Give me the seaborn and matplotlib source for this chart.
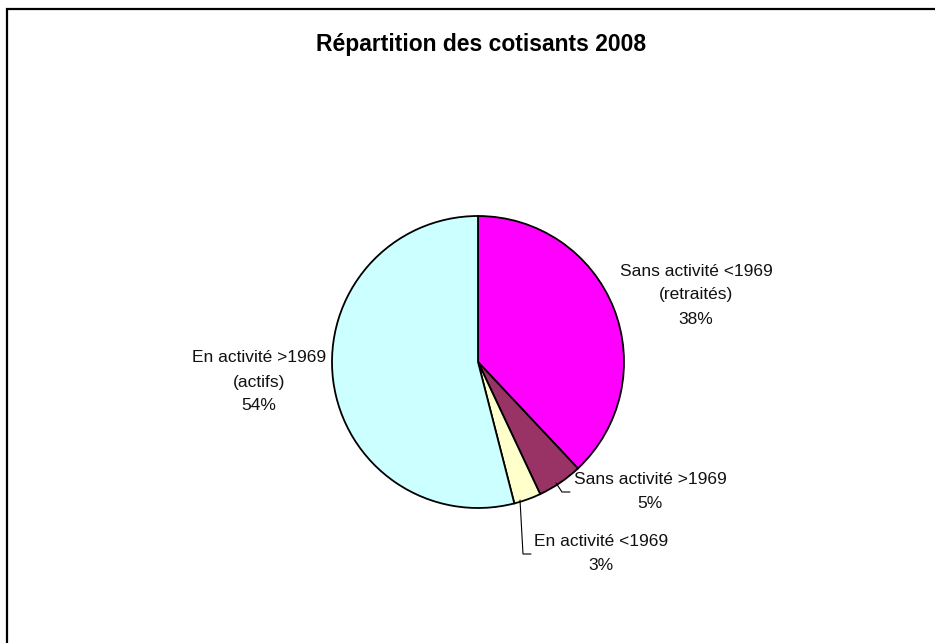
import matplotlib
matplotlib.use("Agg")
import matplotlib.pyplot as plt
from matplotlib.patches import Rectangle
import seaborn as sns

# data
categories = ["Sans activité <1969\n(retraités)", "Sans activité >1969",
              "En activité <1969", "En activité >1969\n(actifs)"]
parts = [38, 5, 3, 54]
colours = ["#FF00FF", "#993366", "#FFFFCC", "#CCFFFF"]

sns.set_theme(style="white")
plt.rcParams['font.family'] = ['Liberation Sans', 'DejaVu Sans']

W, H = 935, 643
fig = plt.figure(figsize=(W / 100, H / 100), dpi=100)
ax = fig.add_axes([0, 0, 1, 1])

# pie centre / radius in pixel units (y measured from the bottom)
cx, cy, r = 478, H - 362, 146
ax.pie(parts, colors=sns.color_palette(colours), startangle=90, counterclock=False,
       center=(cx, cy), radius=r, frame=True,
       wedgeprops=dict(edgecolor="black", linewidth=1.3))
ax.set_xlim(0, W)
ax.set_ylim(0, H)
ax.set_aspect("equal")
ax.axis("off")

# label positions (centre of each text block, pixels from top)
label_pos = [(696, 295), (650, 491), (601, 553), (259, 382)]
for lab, pct, (x, y) in zip(categories, parts, label_pos):
    ax.text(x, H - y, f"{lab}\n{pct}%", ha="center", va="center",
            multialignment="center", linespacing=1.75, fontsize=12.5, color="#111111")

# leader lines for the two small slices
ax.plot([556, 562, 570], [H - 483, H - 492, H - 492], color="black", lw=0.8)
ax.plot([520, 523, 531], [H - 500, H - 554, H - 554], color="black", lw=0.8)

fig.text(481 / W, 1 - 44 / H, "Répartition des cotisants 2008", ha="center",
         va="center", fontsize=16.5, fontweight="bold", color="black")

# outer frame (runs off the right and bottom edges)
fig.patches.append(Rectangle((7 / W, -0.1), 1.2, 1.1 - 9 / H, transform=fig.transFigure,
                             fill=False, edgecolor="black", linewidth=1.6))

fig.savefig("out.png", dpi=100)
